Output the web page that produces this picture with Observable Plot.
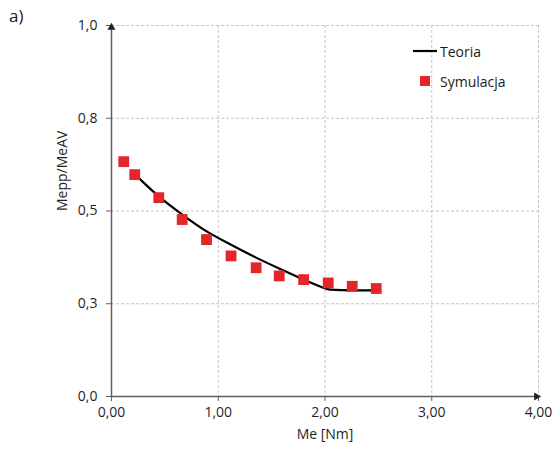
<!DOCTYPE html>
<html>
<head>
<meta charset="utf-8">
<script src="https://cdn.jsdelivr.net/npm/d3@7"></script>
<script src="https://cdn.jsdelivr.net/npm/@observablehq/plot@0.6"></script>
<style>
  body { margin: 0; background: #fff; font-family: "Open Sans", sans-serif; }
  #wrap { position: relative; width: 555px; height: 450px; }
  #panel { position: absolute; left: 9px; top: 4px; font-size: 17px; color: #1a1a1a; }
  .leg { position: absolute; font-size: 14px; color: #1a1a1a; display: flex; align-items: center; }
</style>
</head>
<body>
<div id="wrap">
  <div id="panel">a)</div>
</div>
<script>
// Simulation points (Symulacja)
const simX = [0.115, 0.218, 0.443, 0.662, 0.89, 1.12, 1.355, 1.571, 1.80, 2.03, 2.255, 2.48];
const simY = [0.633, 0.598, 0.536, 0.477, 0.423, 0.379, 0.347, 0.325, 0.315, 0.306, 0.297, 0.291];
// Theory curve (Teoria)
const theoX = [0.222, 0.44, 0.66, 0.88, 1.12, 1.35, 1.57, 1.80, 1.96, 2.05, 2.25, 2.48];
const theoY = [0.598, 0.540, 0.491, 0.447, 0.409, 0.375, 0.345, 0.315, 0.296, 0.288, 0.286, 0.286];
// Axes
const xDomain = [0, 4];
const yDomain = [0, 1];
const xTicks = [0, 1, 2, 3, 4];
const xTickLabels = ["0,00", "1,00", "2,00", "3,00", "4,00"];
const yTicks = [0, 0.25, 0.5, 0.75, 1.0];
const yTickLabels = ["0,0", "0,3", "0,5", "0,8", "1,0"];
const xLabel = "Me [Nm]";
const yLabel = "Mepp/MeAV";
const seriesNames = ["Teoria", "Symulacja"];

const sim = simX.map((x, i) => ({x, y: simY[i]}));
const theo = theoX.map((x, i) => ({x, y: theoY[i]}));

const axisColor = "#5e5e5e";
const gridColor = "#c4c4c4";
const textColor = "#1f1f1f";
const red = "#e3262a";

const chart = Plot.plot({
  width: 555,
  height: 450,
  marginTop: 25,
  marginRight: 17,
  marginBottom: 54,
  marginLeft: 111,
  style: {fontFamily: "Open Sans, sans-serif", fontSize: "14px", color: textColor, background: "#fff"},
  x: {
    domain: xDomain, ticks: xTicks, tickFormat: d => xTickLabels[xTicks.indexOf(d)],
    label: null, tickSize: 5, tickPadding: 6
  },
  y: {
    domain: yDomain, ticks: yTicks, tickFormat: d => yTickLabels[yTicks.indexOf(d)],
    label: null, tickSize: 5, tickPadding: 9
  },
  marks: [
    Plot.ruleX(xTicks.slice(1), {stroke: gridColor, strokeDasharray: "3,2"}),
    Plot.ruleY(yTicks.slice(1), {stroke: gridColor, strokeDasharray: "3,2"}),
    Plot.link([0], {x1: xDomain[0], y1: yDomain[0], x2: xDomain[0], y2: yDomain[1], stroke: axisColor, strokeWidth: 1.5}),
    Plot.link([0], {x1: xDomain[0], y1: yDomain[0], x2: xDomain[1], y2: yDomain[0], stroke: axisColor, strokeWidth: 1.5}),
    Plot.dot([0], {x: xDomain[0], y: yDomain[1], symbol: "triangle", r: 3, fill: "#222", stroke: "none", dy: 2}),
    Plot.dot([0], {x: xDomain[1], y: yDomain[0], symbol: "triangle", r: 3, fill: "#222", stroke: "none", rotate: 90, dx: -2}),
    Plot.line(theo, {x: "x", y: "y", stroke: "#000", strokeWidth: 2.2, curve: "monotone-x"}),
    Plot.dot(sim, {x: "x", y: "y", symbol: "square", r: 6.1, fill: red, stroke: "none"}),
    Plot.text([xLabel], {frameAnchor: "bottom", dy: 42, fontSize: 14, fill: textColor}),
    Plot.text([yLabel], {frameAnchor: "left", dx: -49, rotate: -90, fontSize: 14, fill: textColor})
  ]
});
chart.querySelectorAll("[aria-label='x-axis tick'], [aria-label='y-axis tick']").forEach(g => g.setAttribute("stroke", axisColor));
chart.querySelectorAll("[aria-label='x-axis tick label'], [aria-label='y-axis tick label']").forEach(g => g.setAttribute("fill", textColor));
document.getElementById("wrap").appendChild(chart);

// Legend overlay
const wrap = document.getElementById("wrap");
const l1 = document.createElement("div");
l1.className = "leg";
l1.style.left = "412px"; l1.style.top = "41px";
l1.innerHTML = `<svg width="26" height="20"><line x1="1" x2="25" y1="10" y2="10" stroke="#000" stroke-width="2.2"/></svg><span style="margin-left:2px">${seriesNames[0]}</span>`;
wrap.appendChild(l1);
const l2 = document.createElement("div");
l2.className = "leg";
l2.style.left = "412px"; l2.style.top = "71px";
l2.innerHTML = `<svg width="26" height="20"><rect x="8" y="5" width="10" height="10" fill="${red}"/></svg><span style="margin-left:2px">${seriesNames[1]}</span>`;
wrap.appendChild(l2);
</script>
</body>
</html>
